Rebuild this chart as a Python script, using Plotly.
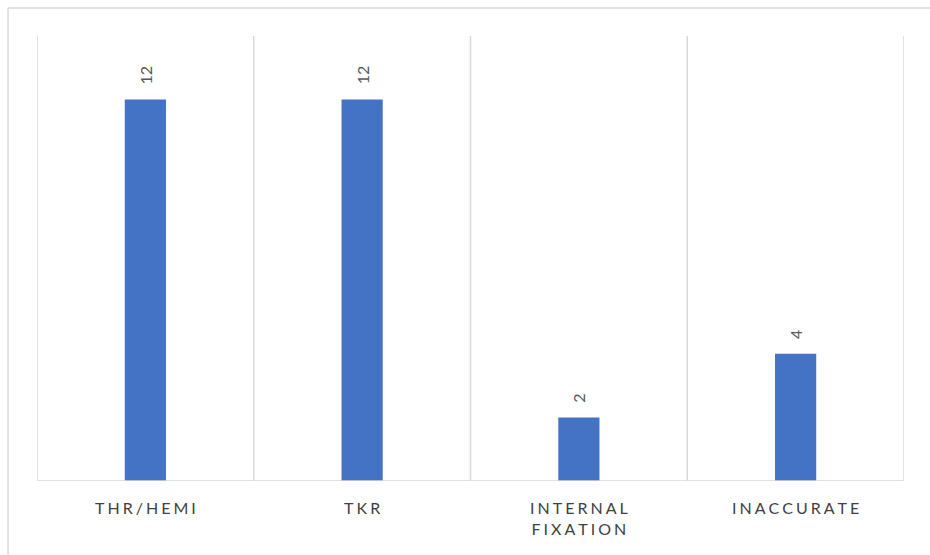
import plotly.graph_objects as go

categories = ["THR/HEMI", "TKR", "INTERNAL<br>FIXATION", "INACCURATE"]
counts = [12, 12, 2, 4]

GAP = "\u2009\u200a"


def spaced(label):
    # widen letter spacing, keeping line breaks intact
    return "<br>".join(GAP.join(list(part)) for part in label.split("<br>"))


tick_text = [spaced(c) for c in categories]
x_pos = list(range(len(categories)))
FONT = "Lato, Open Sans, sans-serif"

fig = go.Figure(
    go.Bar(
        x=x_pos,
        y=counts,
        width=0.19,
        marker=dict(color="#4472c4", line=dict(width=0)),
    )
)

# rotated value labels above each bar
annotations = []
for xi, v in zip(x_pos, counts):
    annotations.append(dict(
        x=xi, y=v, xref="x", yref="y", text=str(v), showarrow=False,
        textangle=-90, yanchor="bottom", xanchor="center", yshift=13,
        font=dict(family=FONT, size=16, color="#595959"),
    ))

# separators between categories and baseline
shapes = []
for i in range(len(categories) + 1):
    shapes.append(dict(type="line", xref="x", yref="paper", x0=i - 0.5, x1=i - 0.5,
                       y0=0, y1=1, line=dict(color="#d9d9d9", width=1.5)))
shapes.append(dict(type="line", xref="paper", yref="y", x0=0, x1=1, y0=0, y1=0,
                   line=dict(color="#d9d9d9", width=1.5)))
# outer chart frame (left and top edges)
shapes.append(dict(type="line", xref="paper", yref="paper", x0=-0.0334, x1=-0.0334,
                   y0=-0.2, y1=1.063, line=dict(color="#d9d9d9", width=1.5)))
shapes.append(dict(type="line", xref="paper", yref="paper", x0=-0.0334, x1=1.1,
                   y0=1.063, y1=1.063, line=dict(color="#d9d9d9", width=1.5)))

fig.update_layout(
    width=930,
    height=555,
    margin=dict(l=37, r=26, t=36, b=74),
    paper_bgcolor="white",
    plot_bgcolor="white",
    showlegend=False,
    shapes=shapes,
    annotations=annotations,
    xaxis=dict(
        range=[-0.5, 3.5],
        tickmode="array",
        tickvals=x_pos,
        ticktext=tick_text,
        showgrid=False,
        zeroline=False,
        showline=False,
        ticks="",
        ticklabelstandoff=16,
        tickfont=dict(family=FONT, size=16, color="#404040"),
    ),
    yaxis=dict(
        range=[0, 14],
        showgrid=False,
        zeroline=False,
        showline=False,
        showticklabels=False,
        ticks="",
    ),
)

fig.write_html("out.html")
